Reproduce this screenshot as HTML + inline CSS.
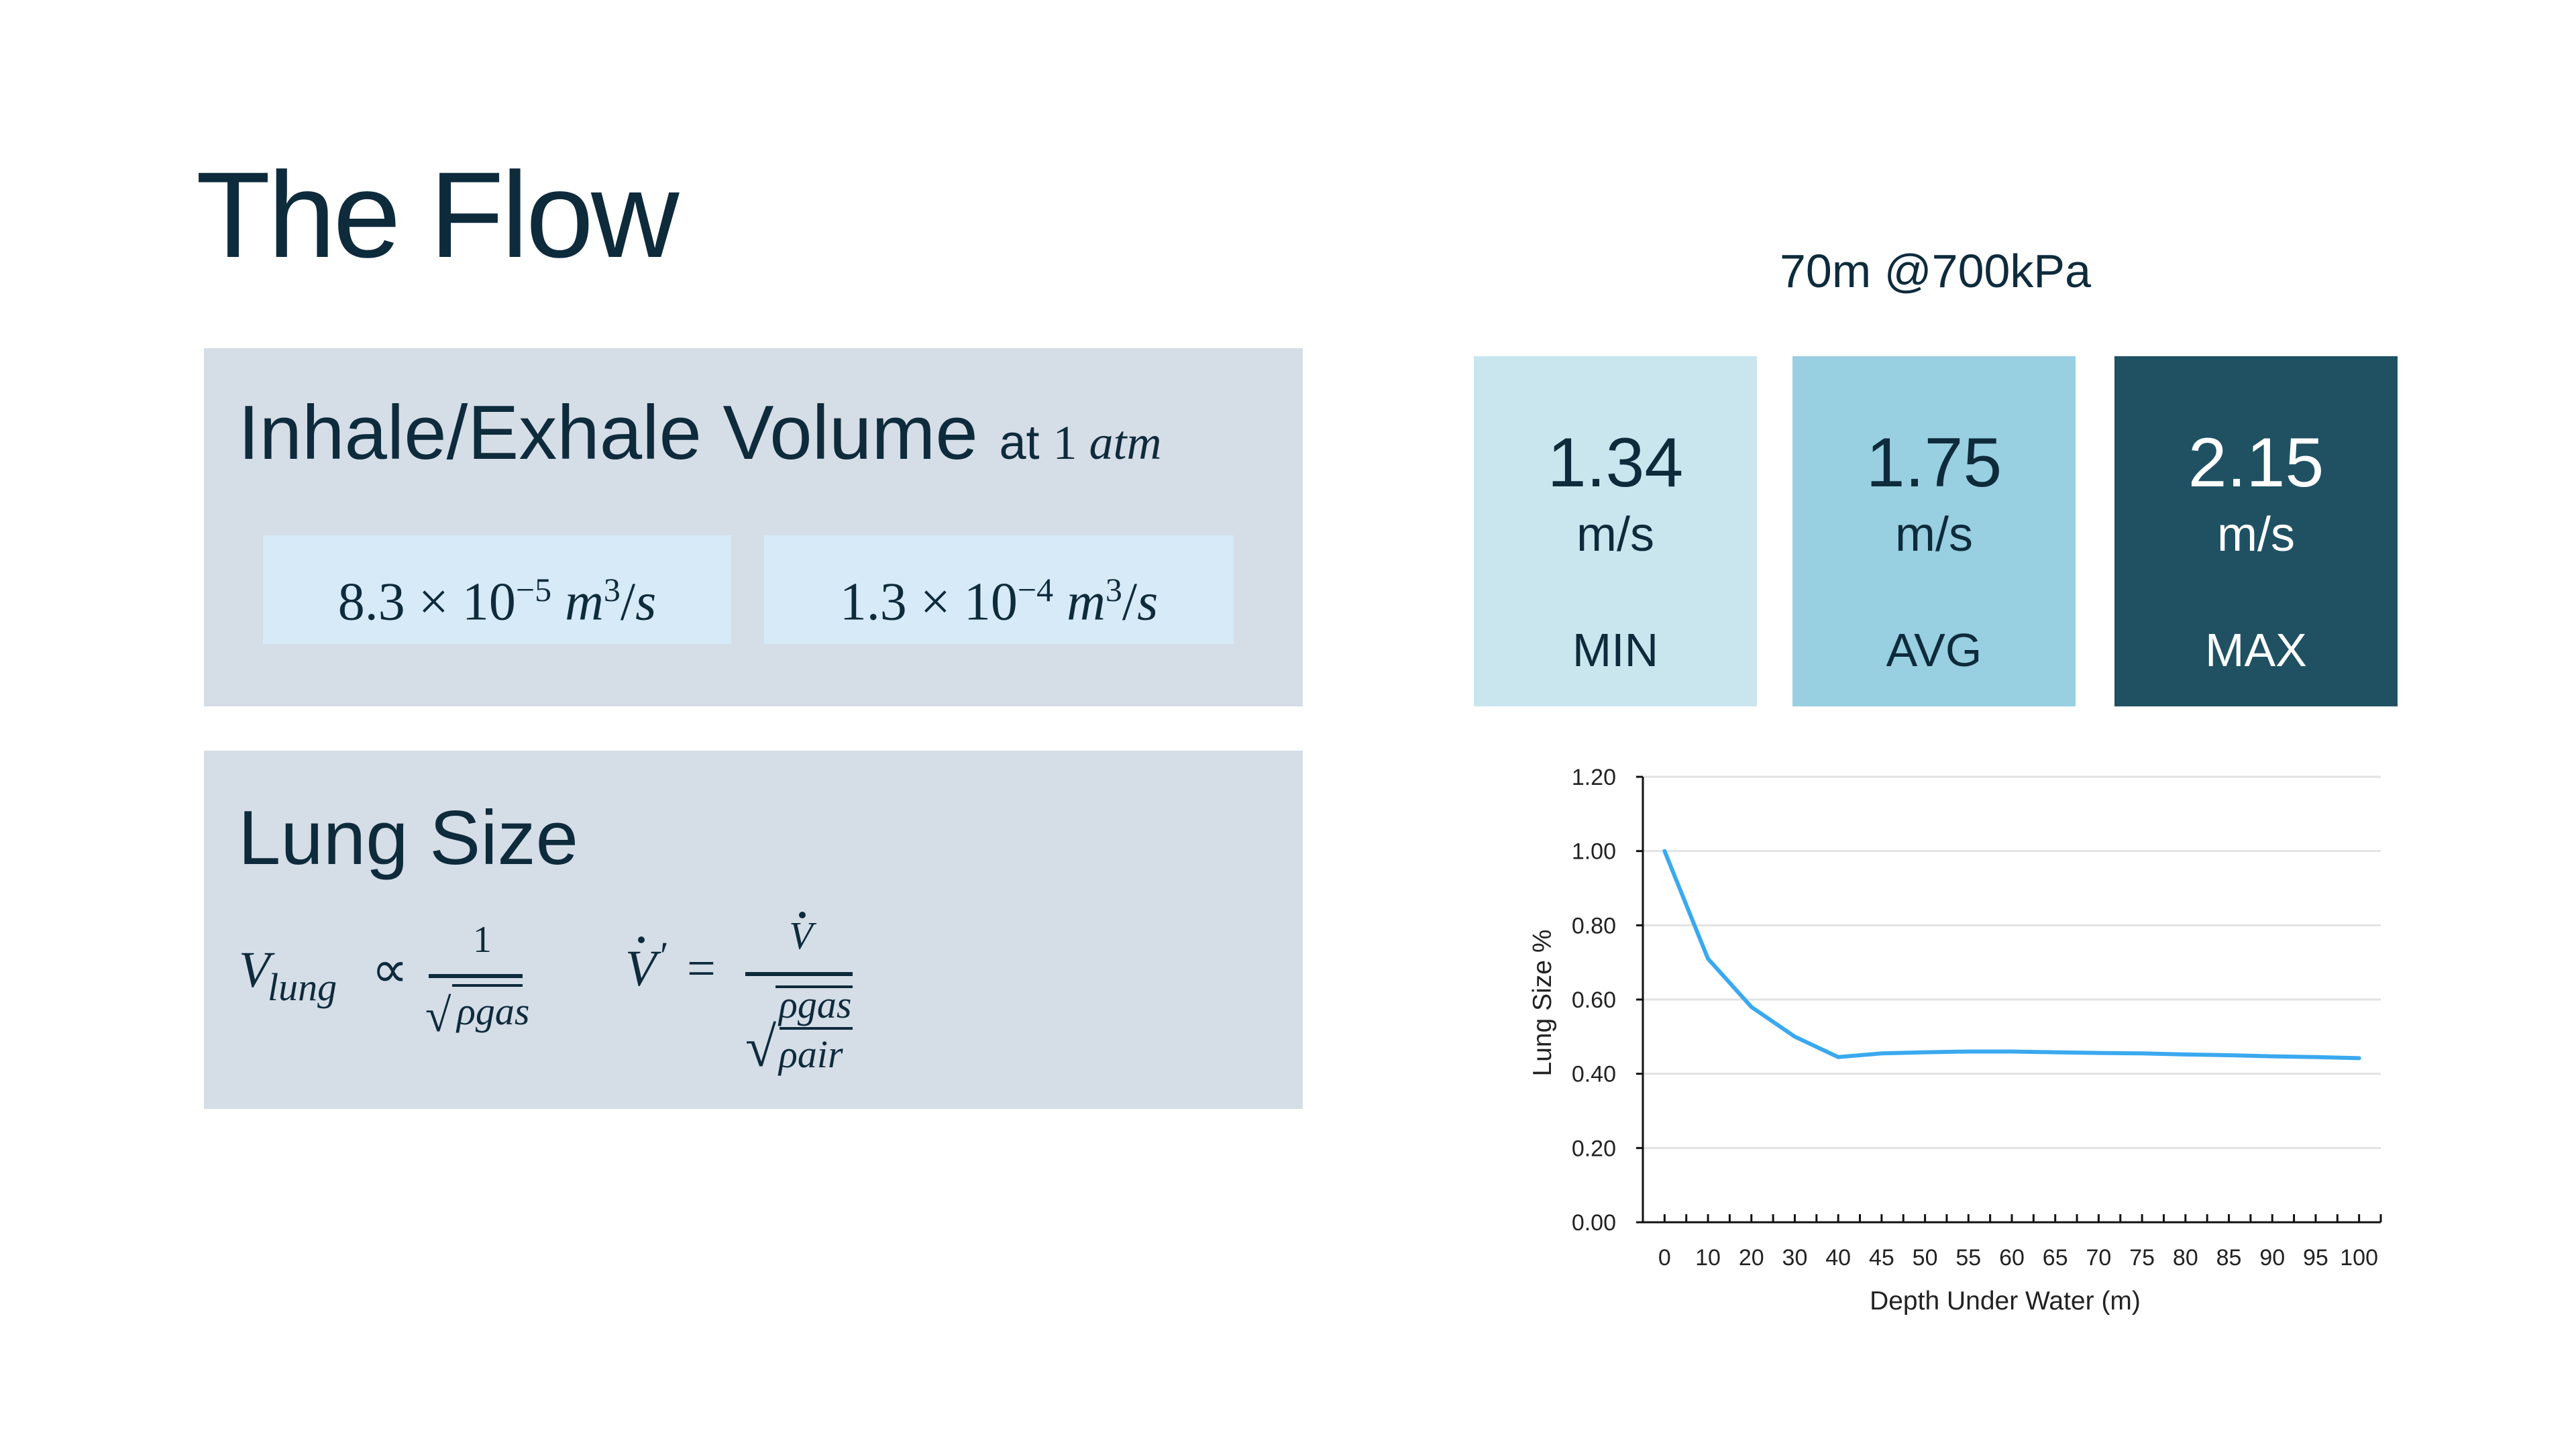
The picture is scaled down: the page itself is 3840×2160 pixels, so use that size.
<!DOCTYPE html>
<html><head><meta charset="utf-8">
<style>
body{margin:0;width:3840px;height:2160px;background:#fff;position:relative;overflow:hidden;font-family:"Liberation Sans",sans-serif;color:#0e2b3c}
.a{position:absolute}
.m{font-family:"Liberation Serif",serif}
.i{font-style:italic}
.card{position:absolute;top:531px;width:422px;height:522px;text-align:center}
.card .n{position:absolute;width:100%;top:100px;font-size:104px}
.card .u{position:absolute;width:100%;top:225px;font-size:72px}
.card .l{position:absolute;width:100%;top:398px;font-size:70px}
</style></head><body>
<div class="a" style="left:292px;top:215px;font-size:182px;letter-spacing:-4px">The Flow</div>

<div class="a" style="left:304px;top:519px;width:1638px;height:534px;background:#d5dde7"></div>
<div class="a" style="left:355px;top:580px;font-size:114px;white-space:nowrap">Inhale/Exhale Volume <span style="font-size:72px">at <span class="m">1 <i>atm</i></span></span></div>
<div class="a m" style="left:392px;top:798px;width:698px;height:162px;background:#d6eaf8;font-size:80px;line-height:162px;text-align:center">8.3 × 10<sup style="font-size:50px">−5</sup> <i>m</i><sup style="font-size:50px">3</sup>/<i>s</i></div>
<div class="a m" style="left:1139px;top:798px;width:700px;height:162px;background:#d6eaf8;font-size:80px;line-height:162px;text-align:center">1.3 × 10<sup style="font-size:50px">−4</sup> <i>m</i><sup style="font-size:50px">3</sup>/<i>s</i></div>

<div class="a" style="left:304px;top:1119px;width:1638px;height:534px;background:#d5dde7"></div>
<div class="a" style="left:355px;top:1184px;font-size:114px">Lung Size</div>
<svg class="a" style="left:304px;top:1119px" width="1638" height="534">
<g font-family="Liberation Serif, serif" fill="#0e2b3c" font-size="76">
<text x="52" y="352" font-style="italic">V</text>
<text x="95" y="372" font-style="italic" font-size="58">lung</text>
<text x="250" y="352">∝</text>
<text x="415" y="300" text-anchor="middle" font-size="56">1</text>
<rect x="335" y="333" width="140" height="6"/>
<text x="330" y="418" font-size="70">√</text>
<rect x="370" y="348" width="105" height="4"/>
<text x="377" y="408" font-style="italic" font-size="58">ρgas</text>
<text x="628" y="350" font-style="italic">V</text>
<circle cx="652" cy="282" r="5"/>
<text x="680" y="325" font-size="58">′</text>
<text x="720" y="350">=</text>
<text x="890" y="295" text-anchor="middle" font-style="italic" font-size="58">V</text>
<circle cx="892" cy="245" r="5"/>
<rect x="807" y="330" width="160" height="6"/>
<text x="807" y="470" font-size="84">√</text>
<rect x="852" y="350" width="115" height="4"/>
<text x="857" y="398" font-style="italic" font-size="58">ρgas</text>
<rect x="858" y="412" width="109" height="4"/>
<text x="857" y="472" font-style="italic" font-size="58">ρair</text>
</g></svg>

<div class="a" style="left:2585px;top:364px;width:600px;text-align:center;font-size:70px">70m @700kPa</div>
<div class="card" style="left:2197px;background:#c9e6ef"><div class="n">1.34</div><div class="u">m/s</div><div class="l">MIN</div></div>
<div class="card" style="left:2672px;background:#98cfe1"><div class="n">1.75</div><div class="u">m/s</div><div class="l">AVG</div></div>
<div class="card" style="left:3152px;background:#1f5163;color:#fff"><div class="n">2.15</div><div class="u">m/s</div><div class="l">MAX</div></div>

<svg class="a" id="chart" style="left:0;top:0" width="3840" height="2160"></svg>
<script>
const categories=["0","10","20","30","40","45","50","55","60","65","70","75","80","85","90","95","100"];
const lungValues=[1.00,0.71,0.58,0.50,0.445,0.455,0.458,0.46,0.46,0.458,0.456,0.455,0.452,0.45,0.447,0.445,0.442];
const yTicks=[0,0.2,0.4,0.6,0.8,1.0,1.2];
const yTickLabels=["0.00","0.20","0.40","0.60","0.80","1.00","1.20"];
const svg=document.getElementById('chart');
const NS='http://www.w3.org/2000/svg';
const X0=2449,X1=3549,Y0=1822,Y1=1158,YMAX=1.2;
const band=(X1-X0)/categories.length;
const xs=i=>X0+band*(i+0.5);
const ys=v=>Y0-(v/YMAX)*(Y0-Y1);
function mk(t,a){const e=document.createElementNS(NS,t);for(const k in a)e.setAttribute(k,a[k]);svg.appendChild(e);return e;}
yTicks.forEach((v,i)=>{
 if(v>0){const g=mk('line',{x1:X0,x2:X1,y1:ys(v),y2:ys(v),stroke:'#e2e2e2','stroke-width':3});
 
 }
 const tk=mk('line',{x1:X0-10,x2:X0,y1:ys(v),y2:ys(v),stroke:'#111','stroke-width':3});
 
 
 const t=mk('text',{x:X0-40,y:ys(v)+12,'text-anchor':'end','font-size':34,fill:'#222','font-family':'Liberation Sans, sans-serif'});
 t.textContent=yTickLabels[i];
 
 
});
const ax=mk('path',{d:`M${X0},${Y1} V${Y0} H${X1}`,stroke:'#111','stroke-width':3,fill:'none'});


for(let i=0;i<=categories.length;i++){
 const tk=mk('line',{x1:X0+band*i,x2:X0+band*i,y1:Y0-12,y2:Y0,stroke:'#111','stroke-width':3});
 
 
}
categories.forEach((c,i)=>{
 const tk=mk('line',{x1:xs(i),x2:xs(i),y1:Y0-12,y2:Y0,stroke:'#111','stroke-width':3});
 
 
 const t=mk('text',{x:xs(i),y:Y0+64,'text-anchor':'middle','font-size':34,fill:'#222','font-family':'Liberation Sans, sans-serif'});
 t.textContent=c;
 
 
});
const line=mk('polyline',{points:lungValues.map((v,i)=>xs(i)+','+ys(v)).join(' '),fill:'none',stroke:'#3aa9ef','stroke-width':6,'stroke-linejoin':'round','stroke-linecap':'round'});


const xt=mk('text',{x:(X0+X1)/2-10,y:1952,'text-anchor':'middle','font-size':39,fill:'#222','font-family':'Liberation Sans, sans-serif'});
xt.textContent='Depth Under Water (m)';


const yt=mk('text',{x:0,y:0,'text-anchor':'middle','font-size':39,fill:'#222','font-family':'Liberation Sans, sans-serif',transform:`translate(2312,${(Y0+Y1)/2+5}) rotate(-90)`});
yt.textContent='Lung Size %';


</script>
</body></html>
